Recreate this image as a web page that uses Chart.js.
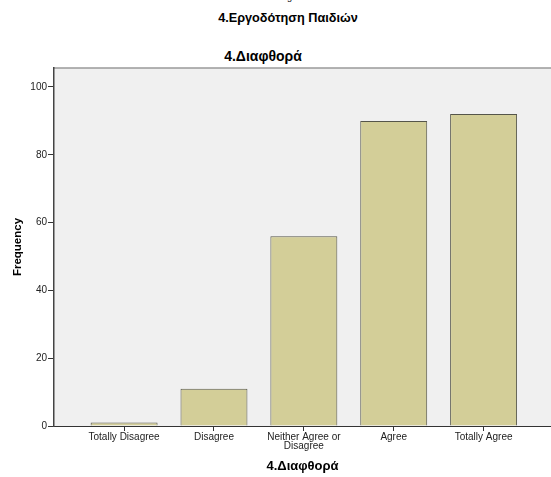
<!DOCTYPE html>
<html>
<head>
<meta charset="utf-8">
<script src="https://cdn.jsdelivr.net/npm/chart.js@4"></script>
<style>
    body { margin: 0; background: #fff; font-family: "Liberation Sans", Arial, sans-serif; }
    #wrap { position: relative; width: 551px; height: 477px; overflow: hidden; }
    .head { position: absolute; width: 300px; text-align: center; color: #000; white-space: nowrap; }
    #prevLabel { left: 137px; top: -7px; font-size: 9px; line-height: 9px; }
    #sectionTitle { left: 138px; top: 11px; font-size: 12.7px; line-height: 14px; font-weight: bold; }
    #chartTitle { left: 113px; top: 49px; font-size: 14px; line-height: 15px; font-weight: bold; }
    #box { position: absolute; left: 0; top: 0; width: 551px; height: 477px; }
</style>
</head>
<body>
<div id="wrap">
    <div class="head" id="prevLabel">Disagree</div>
    <div class="head" id="sectionTitle">4.Εργοδότηση Παιδιών</div>
    <div class="head" id="chartTitle">4.Διαφθορά</div>
    <div id="box"><canvas id="freqChart"></canvas></div>
</div>
<script>
// answers for item 4
var categories = ['Totally Disagree', 'Disagree', ['Neither Agree or', 'Disagree'], 'Agree', 'Totally Agree'];
var frequencies = [1, 11, 56, 90, 92];
var yTicks = [0, 20, 40, 60, 80, 100];

Chart.defaults.font.family = '"Liberation Sans", Arial, sans-serif';
Chart.defaults.color = '#222';

// grey plot background with a thin frame line on top
var plotFrame = {
    id: 'plotFrame',
    beforeDraw: function (chart) {
        var a = chart.chartArea, ctx = chart.ctx;
        ctx.save();
        ctx.fillStyle = '#f0f0f0';
        ctx.fillRect(a.left, a.top, a.right - a.left, a.bottom - a.top);
        ctx.strokeStyle = '#9a9a9a';
        ctx.lineWidth = 1.5;
        ctx.beginPath();
        ctx.moveTo(a.left, a.top);
        ctx.lineTo(a.right, a.top);
        ctx.stroke();
        ctx.restore();
    }
};

var ctx = document.getElementById('freqChart').getContext('2d');
var freqChart = new Chart(ctx, {
    type: 'bar',
    data: {
        datasets: [{
            label: 'Frequency',
            data: frequencies.map(function (v, i) { return { x: i, y: v }; }),
            backgroundColor: '#d3ce98',
            borderColor: '#55554a',
            borderWidth: 1,
            barPercentage: 0.745,
            categoryPercentage: 1
        }]
    },
    options: {
        responsive: true,
        maintainAspectRatio: false,
        animation: false,
        layout: { padding: { top: 68, left: 0, right: 0, bottom: 0 } },
        plugins: {
            legend: { display: false },
            tooltip: { enabled: false }
        },
        scales: {
            x: {
                type: 'linear',
                offset: false,
                min: -0.78,
                max: 4.75,
                afterBuildTicks: function (s) {
                    s.ticks = categories.map(function (c, i) { return { value: i }; });
                },
                afterFit: function (s) { s.height = 51; },
                grid: { drawOnChartArea: false, offset: false, tickLength: 5, color: '#333' },
                border: { color: '#333', width: 1 },
                ticks: {
                    padding: 2,
                    maxRotation: 0,
                    autoSkip: false,
                    font: { size: 10, lineHeight: 0.9 },
                    color: '#222',
                    callback: function (v) { return categories[v]; }
                },
                title: {
                    display: true,
                    text: '4.Διαφθορά',
                    font: { size: 13, weight: 'bold' },
                    color: '#000',
                    padding: { top: 0, bottom: 3 }
                }
            },
            y: {
                min: 0,
                max: 105.6,
                afterBuildTicks: function (s) {
                    s.ticks = yTicks.map(function (v) { return { value: v }; });
                },
                afterFit: function (s) { s.width = 54; },
                grid: { drawOnChartArea: false, tickLength: 6, color: '#333' },
                border: { color: '#444', width: 1.5 },
                ticks: {
                    padding: 1,
                    font: { size: 10 },
                    color: '#222'
                },
                title: {
                    display: true,
                    text: 'Frequency',
                    font: { size: 11.5, weight: 'bold' },
                    color: '#000',
                    padding: { top: 11, bottom: 0 }
                }
            }
        }
    },
    plugins: [plotFrame]
});
</script>
</body>
</html>
